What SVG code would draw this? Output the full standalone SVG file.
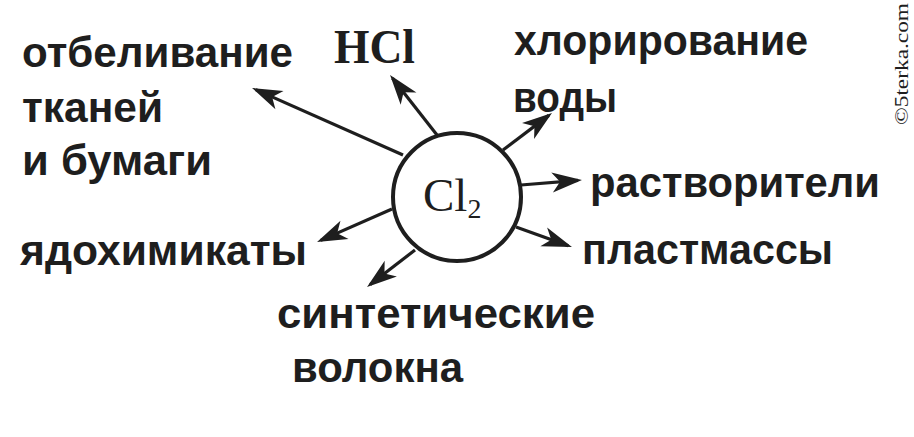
<svg xmlns="http://www.w3.org/2000/svg" width="914" height="437" viewBox="0 0 914 437">
<style>
.lbl{font-family:"Liberation Sans",Arial,sans-serif;font-weight:bold;font-size:42px;fill:#1e1e1e}
.ser{font-family:"Liberation Serif","Times New Roman",serif;fill:#1e1e1e}
.arr{stroke:#1e1e1e;stroke-width:3.2;fill:none;marker-end:url(#ah)}
</style>
<defs>
<marker id="ah" markerUnits="userSpaceOnUse" markerWidth="44" markerHeight="30" viewBox="-34 -15 44 30" refX="0" refY="0" orient="auto">
<path d="M4,0 L-26,-10 L-18,0 L-26,10 Z" fill="#1e1e1e"/>
</marker>
</defs>
<rect width="914" height="437" fill="#ffffff"/>
<g id="connectors">
<line class="arr" x1="403" y1="155" x2="255.7" y2="89.6"/>
<line class="arr" x1="437" y1="135" x2="392.5" y2="78.2"/>
<line class="arr" x1="503" y1="150" x2="548.8" y2="115.4"/>
<line class="arr" x1="521" y1="185" x2="578" y2="180.3"/>
<line class="arr" x1="516" y1="227" x2="568.2" y2="245.7"/>
<line class="arr" x1="392" y1="209" x2="320.7" y2="240.4"/>
<line class="arr" x1="415" y1="250" x2="370.2" y2="284.6"/>
</g>
<g id="cl2">
<circle cx="457" cy="197" r="64" fill="#ffffff" stroke="#1e1e1e" stroke-width="4"/>
<text class="ser" x="423" y="211" font-size="47">Cl<tspan font-size="28" dy="7">2</tspan></text>
</g>
<g id="hcl"><text class="ser" x="334" y="63" font-size="48" font-weight="bold" textLength="81" lengthAdjust="spacingAndGlyphs">HCl</text></g>
<g id="otbel">
<text class="lbl" x="22" y="67" textLength="271" lengthAdjust="spacingAndGlyphs">отбеливание</text>
<text class="lbl" x="22" y="122" textLength="141" lengthAdjust="spacingAndGlyphs">тканей</text>
<text class="lbl" x="22" y="175" textLength="190" lengthAdjust="spacingAndGlyphs">и бумаги</text>
</g>
<g id="hlor">
<text class="lbl" x="514" y="55" textLength="294" lengthAdjust="spacingAndGlyphs">хлорирование</text>
<text class="lbl" x="513" y="112" textLength="104" lengthAdjust="spacingAndGlyphs">воды</text>
</g>
<g id="rastv"><text class="lbl" x="590" y="197" textLength="290" lengthAdjust="spacingAndGlyphs">растворители</text></g>
<g id="plast"><text class="lbl" x="582" y="264" textLength="251" lengthAdjust="spacingAndGlyphs">пластмассы</text></g>
<g id="yado"><text class="lbl" x="20" y="265" textLength="287" lengthAdjust="spacingAndGlyphs">ядохимикаты</text></g>
<g id="sint">
<text class="lbl" x="277" y="328" textLength="318" lengthAdjust="spacingAndGlyphs">синтетические</text>
<text class="lbl" x="292" y="382" textLength="171" lengthAdjust="spacingAndGlyphs">волокна</text>
</g>
<text class="ser" font-size="18" textLength="122" lengthAdjust="spacingAndGlyphs" transform="translate(908,125) rotate(-90)">©5terka.com</text>
</svg>
